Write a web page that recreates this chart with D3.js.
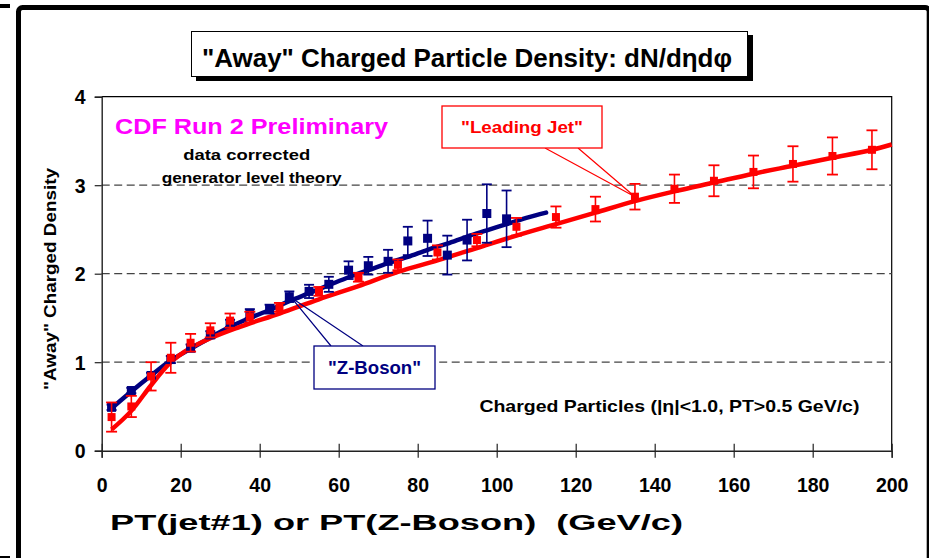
<!DOCTYPE html>
<html>
<head>
<meta charset="utf-8">
<script src="https://cdn.jsdelivr.net/npm/d3@7"></script>
<style>
  html, body { margin: 0; padding: 0; background: #fff; }
  svg { display: block; }
  text { font-family: "Liberation Sans", Arial, sans-serif; font-weight: bold; }
</style>
</head>
<body>
<svg id="chart" width="929" height="558"></svg>
<script>
// ---------- data ----------
const zX    = [2.5, 7.5, 12.5, 17.5, 22.5, 27.5, 32.5, 37.5, 42.5, 47.5, 52.5, 57.5, 62.5, 67.5, 72.5, 77.5, 82.5, 87.5, 92.5, 97.5, 102.5];
const zY    = [0.49, 0.68, 0.85, 1.03, 1.16, 1.31, 1.44, 1.55, 1.60, 1.74, 1.80, 1.88, 2.04, 2.09, 2.14, 2.37, 2.40, 2.21, 2.38, 2.68, 2.62];
const zErr  = [0.03, 0.03, 0.03, 0.04, 0.04, 0.04, 0.04, 0.05, 0.05, 0.06, 0.075, 0.085, 0.10, 0.10, 0.13, 0.16, 0.20, 0.22, 0.23, 0.33, 0.32];

const jetX   = [2.5, 7.5, 12.5, 17.5, 22.5, 27.5, 32.5, 37.5, 45, 55, 65, 75, 85, 95, 105, 115, 125, 135, 145, 155, 165, 175, 185, 195];
const jetY   = [0.38, 0.50, 0.84, 1.05, 1.22, 1.36, 1.47, 1.51, 1.62, 1.80, 1.96, 2.10, 2.24, 2.38, 2.53, 2.64, 2.73, 2.87, 2.96, 3.05, 3.15, 3.24, 3.33, 3.40];
const jetErr = [0.165, 0.12, 0.16, 0.17, 0.10, 0.08, 0.08, 0.06, 0.05, 0.05, 0.05, 0.06, 0.08, 0.07, 0.10, 0.12, 0.14, 0.145, 0.16, 0.175, 0.185, 0.20, 0.21, 0.22];

const zTheoryX   = [2.5, 7.5, 12.5, 17.5, 22.5, 27.5, 32.5, 37.5, 42.5, 47.5, 52.5, 57.5, 62.5, 67.5, 72.5, 77.5, 82.5, 87.5, 92.5, 97.5, 102.5, 107.5, 112.5];
const zTheoryY   = [0.48, 0.67, 0.85, 1.02, 1.15, 1.28, 1.40, 1.50, 1.59, 1.69, 1.78, 1.87, 1.96, 2.04, 2.12, 2.19, 2.27, 2.34, 2.42, 2.49, 2.56, 2.63, 2.69];
const jetTheoryX = [2.5, 7.5, 12.5, 17.5, 22.5, 27.5, 35, 45, 55, 65, 75, 85, 95, 105, 115, 125, 135, 145, 155, 165, 175, 185, 195, 200];
const jetTheoryY = [0.24, 0.45, 0.74, 1.00, 1.16, 1.27, 1.40, 1.55, 1.71, 1.86, 2.02, 2.15, 2.29, 2.43, 2.56, 2.69, 2.82, 2.93, 3.03, 3.13, 3.22, 3.31, 3.40, 3.46];

const xTicks = [0, 20, 40, 60, 80, 100, 120, 140, 160, 180, 200];
const yTicks = [0, 1, 2, 3, 4];
const gridLines = [1, 2, 3];

const titleText  = '"Away" Charged Particle Density: dN/dηdφ';
const xLabelText = 'PT(jet#1) or PT(Z-Boson)  (GeV/c)';
const yLabelText = '"Away" Charged Density';

// ---------- setup ----------
const svg = d3.select("#chart");
const RED = "#ff0000", BLUE = "#000080", MAG = "#ff00ff";

const x = d3.scaleLinear().domain([0, 200]).range([101.7, 891.7]);
const y = d3.scaleLinear().domain([0, 4]).range([450.7, 96.7]);

// outer frame
svg.append("rect").attr("x", 0).attr("y", 4).attr("width", 10).attr("height", 4).attr("fill", "#000");
svg.append("rect").attr("x", 0).attr("y", 556).attr("width", 10).attr("height", 3).attr("fill", "#000");
svg.append("rect").attr("x", 18.5).attr("y", 7.5).attr("width", 910.7).attr("height", 560)
  .attr("rx", 4).attr("fill", "none").attr("stroke", "#000").attr("stroke-width", 5);

// title box with shadow
svg.append("rect").attr("x", 196).attr("y", 35).attr("width", 557).attr("height", 46).attr("fill", "#000");
svg.append("rect").attr("x", 191.5).attr("y", 31.5).attr("width", 556).attr("height", 45)
  .attr("fill", "#fff").attr("stroke", "#000").attr("stroke-width", 1);
svg.append("text").attr("x", 467).attr("y", 67).attr("text-anchor", "middle")
  .attr("font-size", 25).attr("textLength", 530).attr("lengthAdjust", "spacingAndGlyphs")
  .attr("fill", "#000").text(titleText);

// plot area border (top & right)
svg.append("path")
  .attr("d", `M${x(0)},${y(4)}H${x(200)}V${y(0)}`)
  .attr("fill", "none").attr("stroke", "#000").attr("stroke-width", 1.2);

// gridlines
svg.append("g").selectAll("line").data(gridLines).join("line")
  .attr("x1", x(0)).attr("x2", x(200))
  .attr("y1", d => y(d)).attr("y2", d => y(d))
  .attr("stroke", "#444").attr("stroke-width", 1.2).attr("stroke-dasharray", "8,4.5");

// axes
const xAxis = svg.append("g").attr("transform", `translate(0,${y(0)})`)
  .call(d3.axisBottom(x).tickValues(xTicks).tickSize(7).tickFormat(d3.format("d")));
xAxis.select(".domain").attr("stroke", "#222").attr("stroke-width", 1.4);
xAxis.selectAll(".tick line").attr("y1", -7).attr("y2", 7).attr("stroke", "#222").attr("stroke-width", 1.2);
xAxis.selectAll(".tick text").attr("y", 41).attr("dy", null)
  .attr("font-size", 19.5).attr("font-family", "Liberation Sans, Arial, sans-serif")
  .attr("font-weight", "bold").attr("fill", "#000");

const yAxis = svg.append("g").attr("transform", `translate(${x(0)},0)`)
  .call(d3.axisLeft(y).tickValues(yTicks).tickSize(7).tickFormat(d3.format("d")));
yAxis.select(".domain").attr("stroke", "#222").attr("stroke-width", 1.4);
yAxis.selectAll(".tick line").attr("stroke", "#222").attr("stroke-width", 1.2);
yAxis.selectAll(".tick text").attr("x", -16).attr("dy", "0.36em")
  .attr("font-size", 19.5).attr("font-family", "Liberation Sans, Arial, sans-serif")
  .attr("font-weight", "bold").attr("fill", "#000");

// axis titles
svg.append("text").attr("x", 110).attr("y", 530)
  .attr("font-size", 22).attr("textLength", 573).attr("lengthAdjust", "spacingAndGlyphs")
  .attr("xml:space", "preserve").style("white-space", "pre")
  .text(xLabelText);
svg.append("text").attr("transform", "translate(56,279) rotate(-90)").attr("text-anchor", "middle")
  .attr("font-size", 17).attr("textLength", 222).attr("lengthAdjust", "spacingAndGlyphs")
  .text(yLabelText);

// annotations
svg.append("text").attr("x", 251.5).attr("y", 134).attr("text-anchor", "middle")
  .attr("font-size", 22).attr("fill", MAG).attr("textLength", 273).attr("lengthAdjust", "spacingAndGlyphs")
  .text("CDF Run 2 Preliminary");
svg.append("text").attr("x", 246.7).attr("y", 160).attr("text-anchor", "middle")
  .attr("font-size", 15).attr("textLength", 127).attr("lengthAdjust", "spacingAndGlyphs")
  .text("data corrected");
svg.append("text").attr("x", 251.7).attr("y", 183).attr("text-anchor", "middle")
  .attr("font-size", 15).attr("textLength", 180).attr("lengthAdjust", "spacingAndGlyphs")
  .text("generator level theory");
svg.append("text").attr("x", 479.4).attr("y", 412)
  .attr("font-size", 16.5).attr("textLength", 380).attr("lengthAdjust", "spacingAndGlyphs")
  .text("Charged Particles (|η|<1.0, PT>0.5 GeV/c)");

// theory lines
const lineGen = d3.line().x(d => x(d[0])).y(d => y(d[1])).curve(d3.curveMonotoneX);
svg.append("path").datum(d3.zip(zTheoryX, zTheoryY)).attr("d", lineGen)
  .attr("fill", "none").attr("stroke", BLUE).attr("stroke-width", 4.5).attr("stroke-linecap", "round");
svg.append("path").datum(d3.zip(jetTheoryX, jetTheoryY)).attr("d", lineGen)
  .attr("fill", "none").attr("stroke", RED).attr("stroke-width", 4.5).attr("stroke-linecap", "butt");

// data points with error bars
function drawSeries(xs, ys, es, color, msize, cap) {
  const g = svg.append("g");
  const data = d3.zip(xs, ys, es);
  g.selectAll("line.v").data(data).join("line").attr("class", "v")
    .attr("x1", d => x(d[0])).attr("x2", d => x(d[0]))
    .attr("y1", d => y(d[1] - d[2])).attr("y2", d => y(d[1] + d[2]))
    .attr("stroke", color).attr("stroke-width", 1.6);
  g.selectAll("line.t").data(data).join("line").attr("class", "t")
    .attr("x1", d => x(d[0]) - cap / 2).attr("x2", d => x(d[0]) + cap / 2)
    .attr("y1", d => y(d[1] + d[2])).attr("y2", d => y(d[1] + d[2]))
    .attr("stroke", color).attr("stroke-width", 1.8);
  g.selectAll("line.b").data(data).join("line").attr("class", "b")
    .attr("x1", d => x(d[0]) - cap / 2).attr("x2", d => x(d[0]) + cap / 2)
    .attr("y1", d => y(d[1] - d[2])).attr("y2", d => y(d[1] - d[2]))
    .attr("stroke", color).attr("stroke-width", 1.8);
  g.selectAll("rect").data(data).join("rect")
    .attr("x", d => x(d[0]) - msize / 2).attr("y", d => y(d[1]) - msize / 2)
    .attr("width", msize).attr("height", msize).attr("fill", color);
}
drawSeries(zX, zY, zErr, BLUE, 9, 10);
drawSeries(jetX, jetY, jetErr, RED, 8, 11);

// callout: Leading Jet
svg.append("path").attr("d", `M545,148L${x(135)},${y(jetY[17])}L578,148`)
  .attr("fill", "none").attr("stroke", RED).attr("stroke-width", 1.2);
svg.append("rect").attr("x", 442).attr("y", 106).attr("width", 160).attr("height", 42)
  .attr("fill", "#fff").attr("stroke", RED).attr("stroke-width", 1.3);
svg.append("text").attr("x", 522).attr("y", 133).attr("text-anchor", "middle")
  .attr("font-size", 16.5).attr("fill", RED).attr("textLength", 122).attr("lengthAdjust", "spacingAndGlyphs")
  .text('"Leading Jet"');

// callout: Z-Boson
svg.append("path").attr("d", `M331,346L${x(47.5) + 2},${y(zY[9]) + 1}L363,346`)
  .attr("fill", "none").attr("stroke", BLUE).attr("stroke-width", 1.2);
svg.append("rect").attr("x", 314).attr("y", 346).attr("width", 121).attr("height", 43)
  .attr("fill", "#fff").attr("stroke", BLUE).attr("stroke-width", 1.3);
svg.append("text").attr("x", 374.5).attr("y", 374).attr("text-anchor", "middle")
  .attr("font-size", 17.5).attr("fill", BLUE).attr("textLength", 93).attr("lengthAdjust", "spacingAndGlyphs")
  .text('"Z-Boson"');
</script>
</body>
</html>
